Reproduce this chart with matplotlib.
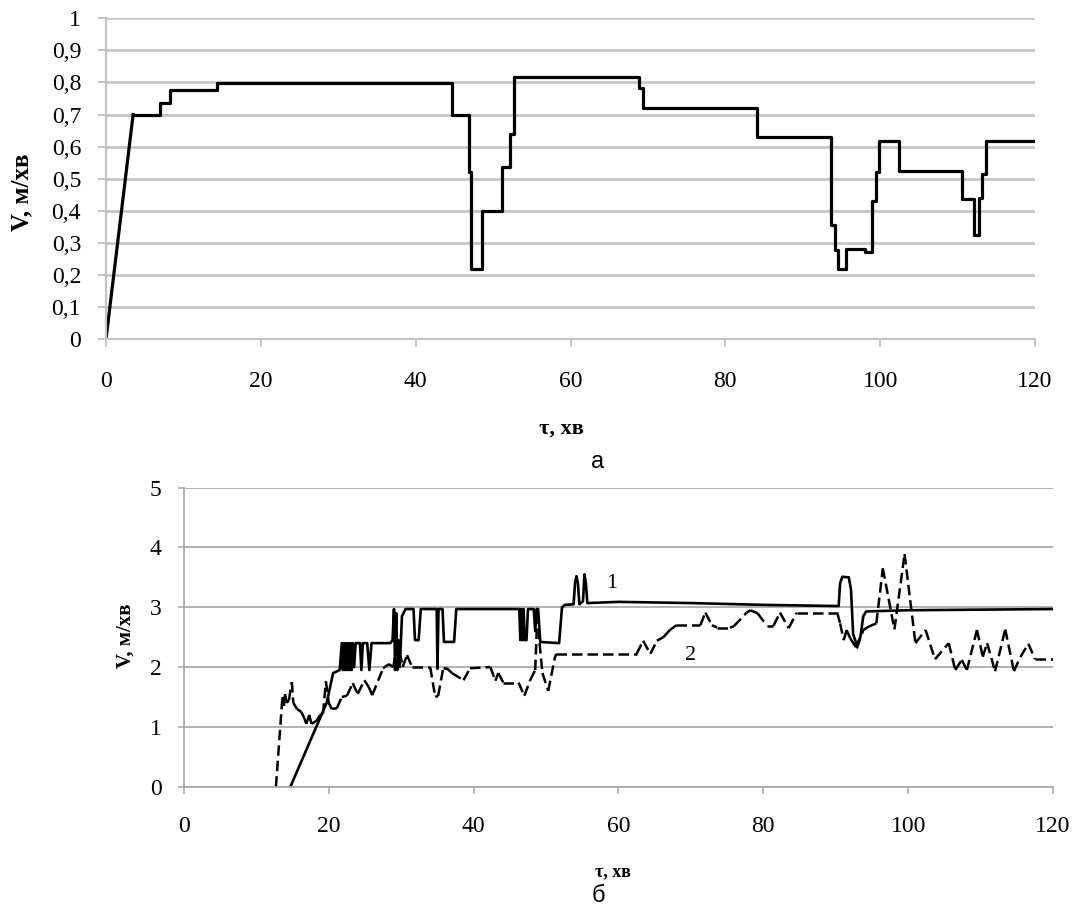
import matplotlib
matplotlib.use('Agg')
import matplotlib.pyplot as plt
from matplotlib.collections import LineCollection
from matplotlib.ticker import FuncFormatter
import numpy as np

# --- chart a: speed, stepwise ---
ramp_t = [0, 3.5]
ramp_v = [0, 0.70]
step_t = [3.5, 7.0, 8.2, 14.3, 44.7, 46.9, 47.1, 48.6, 51.2, 52.2, 52.7, 68.9, 69.3,
          84.1, 93.7, 94.1, 94.5, 95.6, 98.1, 99.0, 99.4, 99.9, 102.4, 110.6, 112.1,
          112.7, 113.1, 113.7, 120]
step_v = [0.70, 0.735, 0.778, 0.797, 0.70, 0.52, 0.218, 0.40, 0.536, 0.638, 0.816, 0.784, 0.72,
          0.63, 0.357, 0.279, 0.217, 0.28, 0.27, 0.43, 0.52, 0.618, 0.524, 0.438, 0.324,
          0.44, 0.514, 0.618, 0.618]

# --- chart b: curve 1 (solid) ---
t1 = [14.7, 19.7, 20.6, 21.5, 21.8, 21.95, 22.1, 22.25, 22.4, 22.55, 22.7, 22.85, 23.0,
      23.15, 23.3, 23.5, 23.7, 24.3, 24.5, 24.7, 25.3, 25.6, 25.9, 28.5, 28.8, 29.0,
      29.15, 29.3, 29.45, 29.6, 29.8, 30.1, 30.6, 31.7, 31.9, 32.4, 32.7, 34.9, 35.0,
      35.15, 35.7, 35.9, 37.3, 37.6, 46.3, 46.45, 46.6, 46.75, 46.9, 47.05, 47.3, 47.5,
      48.3, 48.5, 48.7, 48.9, 49.2, 51.8, 52.2, 52.6, 53.8, 54.0, 54.2, 54.4, 54.6,
      55.1, 55.3, 55.5, 55.7, 60, 70, 80, 90.4, 90.6, 90.9, 91.8, 92.1, 92.4, 92.9,
      93.4, 93.8, 94.2, 100, 110, 120]
v1 = [0, 1.40, 1.90, 1.95, 2.40, 1.95, 2.40, 1.95, 2.40, 1.95, 2.40, 1.95, 2.40,
      1.95, 2.40, 2.0, 2.40, 2.40, 1.95, 2.40, 2.40, 1.95, 2.40, 2.40, 2.45, 2.97,
      1.95, 2.9, 1.95, 2.45, 2.0, 2.85, 2.97, 2.97, 2.45, 2.45, 2.97, 2.97, 1.97,
      2.97, 2.97, 2.42, 2.42, 2.97, 2.97, 2.45, 2.97, 2.45, 2.97, 2.45, 2.45, 2.97,
      2.97, 2.6, 2.97, 2.97, 2.42, 2.40, 3.0, 3.04, 3.05, 3.4, 3.52, 3.4, 3.05,
      3.1, 3.55, 3.4, 3.07, 3.09, 3.07, 3.04, 3.02, 3.4, 3.51, 3.5, 3.3, 2.55, 2.37,
      2.5, 2.85, 2.93, 2.95, 2.96, 2.97]

# --- chart b: curve 2 (dashed) ---
t2 = [12.7, 13.6, 13.8, 13.95, 14.2, 14.5, 14.9, 15.1, 15.6, 16.2, 16.6, 16.9, 17.3,
      17.6, 18.3, 18.8, 19.2, 19.6, 20.0, 20.4, 21.1, 21.8, 22.5, 23.3, 24.0, 24.9,
      25.5, 26.0, 27.5, 28.3, 28.9, 29.2, 29.5, 29.8, 30.2, 30.8, 31.5, 34.0, 34.7,
      35.1, 35.8, 36.3, 37.0, 38.6, 39.5, 42.3, 43.0, 43.4, 44.1, 46.2, 47.0, 47.8,
      48.5, 48.8, 49.1, 49.5, 50.3, 51.2, 51.4, 62.5, 63.4, 64.4, 65.3, 66.2, 67.1,
      68.0, 71.3, 72.0, 72.9, 73.6, 75.4, 75.9, 77.7, 78.2, 79.2, 80.5, 81.4, 82.3,
      83.5, 84.6, 90.2, 90.6, 91.1, 91.5, 92.0, 92.9, 93.8, 94.6, 95.6, 96.5, 98.1,
      99.5, 101.0, 102.4, 103.7, 105.6, 106.5, 107.4, 108.1, 109.5, 110.3, 110.9,
      112.0, 113.4, 114.6, 115.5, 116.6, 117.5, 120.0]
v2 = [0, 1.5, 1.35, 1.55, 1.4, 1.45, 1.75, 1.4, 1.3, 1.25, 1.15, 1.05, 1.2,
      1.05, 1.1, 1.2, 1.22, 1.76, 1.4, 1.3, 1.31, 1.5, 1.52, 1.73, 1.55, 1.78,
      1.67, 1.53, 1.98, 2.05, 2.0, 2.2, 2.0, 2.25, 2.0, 2.2, 2.0, 2.0, 1.5,
      1.52, 1.98, 1.98, 1.9, 1.78, 1.98, 2.0, 1.77, 1.9, 1.74, 1.74, 1.52, 1.78,
      1.95, 2.9, 2.4, 1.9, 1.6, 2.15, 2.22, 2.22, 2.44, 2.22, 2.44, 2.5, 2.62,
      2.70, 2.70, 2.91, 2.70, 2.66, 2.66, 2.68, 2.91, 2.95, 2.9, 2.69, 2.69, 2.91,
      2.65, 2.91, 2.91, 2.73, 2.45, 2.62, 2.48, 2.31, 2.62, 2.68, 2.73, 3.65, 2.63,
      3.89, 2.40, 2.62, 2.13, 2.40, 1.95, 2.12, 1.95, 2.62, 2.17, 2.40,
      1.93, 2.63, 1.93, 2.17, 2.39, 2.13, 2.13]

serif = 'Liberation Serif'

fig = plt.figure(figsize=(10.72, 9.11), dpi=100)

# chart a
ax1 = fig.add_axes([0.0989, 0.6279, 0.8666, 0.352])
ax1.plot(ramp_t, ramp_v, color='black', lw=2.3)
ax1.plot(step_t, step_v, color='black', lw=2.3, drawstyle='steps-post')
ax1.set_xlim(0, 120)
ax1.set_ylim(0, 1)
ax1.set_xticks(np.arange(0, 121, 20))
ax1.set_yticks(np.arange(0, 1.01, 0.1))
ax1.yaxis.set_major_formatter(FuncFormatter(lambda v, p: ('%g' % round(v, 1)).replace('.', ',')))
ax1.grid(axis='y', color='#c4c4c4', lw=1.9)
ax1.set_axisbelow(True)
for s in ['top', 'right']:
    ax1.spines[s].set_visible(False)
for s in ['left', 'bottom']:
    ax1.spines[s].set_color('#c4c4c4')
    ax1.spines[s].set_linewidth(1.6)
ax1.tick_params(axis='x', length=6, width=1.4, color='#c4c4c4', pad=17, labelsize=17)
ax1.tick_params(axis='y', length=6, width=1.4, color='#c4c4c4', pad=12, labelsize=17)
for lab in ax1.get_xticklabels() + ax1.get_yticklabels():
    lab.set_fontfamily(serif)

# chart b
ax2 = fig.add_axes([0.1716, 0.1365, 0.8107, 0.3282])
ax2.plot(t1, v1, color='black', lw=1.9)
pts = np.column_stack([t2, v2])
segs = np.stack([pts[:-1], pts[1:]], axis=1)
lc = LineCollection(segs, colors='black', linewidths=1.8, linestyles=[(0, (4.2, 2.0))],
                    capstyle='butt')
ax2.add_collection(lc)
ax2.set_xlim(0, 120)
ax2.set_ylim(0, 5)
ax2.set_xticks(np.arange(0, 121, 20))
ax2.set_yticks(np.arange(0, 6, 1))
ax2.grid(axis='y', color='#a6a6a6', lw=1.2)
ax2.set_axisbelow(True)
for s in ['top', 'right']:
    ax2.spines[s].set_visible(False)
for s in ['left', 'bottom']:
    ax2.spines[s].set_color('#a6a6a6')
    ax2.spines[s].set_linewidth(1.2)
ax2.tick_params(axis='x', length=5, width=1.1, color='#a6a6a6', pad=16, labelsize=17)
ax2.tick_params(axis='y', length=4, width=1.1, color='#a6a6a6', pad=12, labelsize=17)
for lab in ax2.get_xticklabels() + ax2.get_yticklabels():
    lab.set_fontfamily(serif)
ax2.text(59.1, 3.40, '1', fontsize=16, family=serif, ha='center', va='center')
ax2.text(69.9, 2.20, '2', fontsize=16, family=serif, ha='center', va='center')

# axis titles and captions
fig.text(0.0205, 0.789, 'V, м/хв', rotation=90, fontsize=18, fontweight='bold',
         family=serif, ha='center', va='center')
fig.text(0.524, 0.530, 'τ, хв', fontsize=16, fontweight='bold', family=serif,
         ha='center', va='center')
fig.text(0.1175, 0.302, 'V, м/хв', rotation=90, fontsize=15, fontweight='bold',
         family=serif, ha='center', va='center')
fig.text(0.572, 0.043, 'τ, хв', fontsize=13, fontweight='bold', family=serif,
         ha='center', va='center')
fig.text(0.557, 0.493, 'а', fontsize=17, family='Liberation Sans', ha='center', va='center')
fig.text(0.558, 0.016, 'б', fontsize=17, family='Liberation Sans', ha='center', va='center')

fig.savefig('out.png', dpi=100)
